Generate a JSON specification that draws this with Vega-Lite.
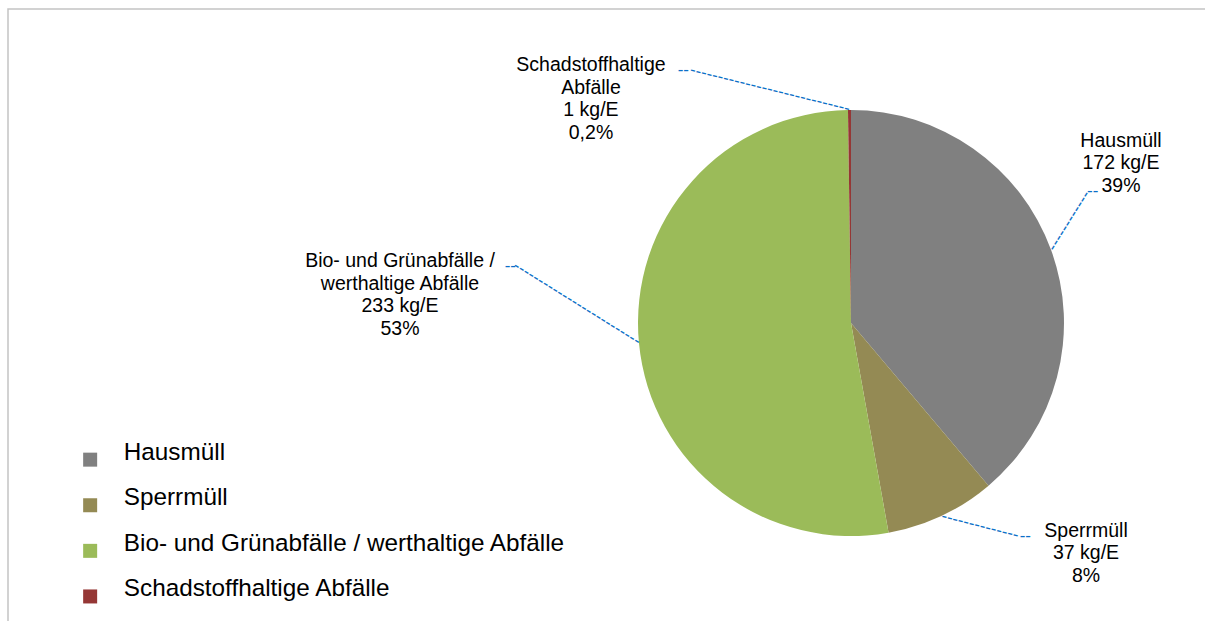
{
  "$schema": "https://vega.github.io/schema/vega-lite/v6.json",
  "width": 1686,
  "height": 628,
  "autosize": {"type": "none"},
  "padding": {"left": 8, "top": 9, "right": 0, "bottom": 0},
  "background": "white",
  "view": {"stroke": "#c3c3c3", "strokeWidth": 1.5},
  "config": {
    "view": {"stroke": "#c3c3c3", "strokeWidth": 1.5},
    "style": {"view": {"stroke": "#c3c3c3", "strokeWidth": 1.5}},
    "font": "Liberation Sans"
  },
  "data": {
    "values": [
      {"cat": "Hausmüll", "kg": 172, "label": "Hausmüll\n172 kg/E\n39%"},
      {"cat": "Sperrmüll", "kg": 37, "label": "Sperrmüll\n37 kg/E\n8%"},
      {"cat": "Bio- und Grünabfälle / werthaltige Abfälle", "kg": 233, "label": "Bio- und Grünabfälle /\nwerthaltige Abfälle\n233 kg/E\n53%"},
      {"cat": "Schadstoffhaltige Abfälle", "kg": 1, "label": "Schadstoffhaltige\nAbfälle\n1 kg/E\n0,2%"}
    ]
  },
  "transform": [{"window": [{"op": "row_number", "as": "idx"}]}],
  "encoding": {
    "theta": {"field": "kg", "type": "quantitative", "stack": true},
    "order": {"field": "idx", "type": "quantitative"}
  },
  "layer": [
    {
      "mark": {"type": "arc", "outerRadius": 213, "strokeWidth": 0},
      "encoding": {
        "color": {
          "field": "cat",
          "type": "nominal",
          "sort": null,
          "scale": {
            "domain": ["Hausmüll", "Sperrmüll", "Bio- und Grünabfälle / werthaltige Abfälle", "Schadstoffhaltige Abfälle"],
            "range": ["#808080", "#948A54", "#9BBB59", "#953735"]
          },
          "legend": {
            "orient": "none",
            "legendX": 70,
            "legendY": 438.5,
            "title": null,
            "padding": 0,
            "labelFont": "Liberation Sans",
            "labelFontSize": 24.3,
            "labelColor": "black",
            "labelLimit": 700,
            "labelOffset": 21.5,
            "labelBaseline": "alphabetic",
            "symbolType": "square",
            "symbolSize": 196,
            "symbolStrokeWidth": 0,
            "rowPadding": 18.6
          }
        }
      }
    },
    {
      "mark": {"type": "text", "radius": 213, "angle": -58, "align": "left", "baseline": "middle", "fontSize": 17, "color": "#0A70C8"},
      "encoding": {"text": {"condition": {"test": "datum.cat === 'Hausmüll'", "value": "------------"}, "value": ""}}
    },
    {
      "mark": {"type": "text", "radius": 213, "dx": 36, "dy": -58.7, "align": "left", "baseline": "middle", "fontSize": 17, "color": "#0A70C8"},
      "encoding": {"text": {"condition": {"test": "datum.cat === 'Hausmüll'", "value": "--"}, "value": ""}}
    },
    {
      "mark": {"type": "text", "radius": 213, "angle": 14.5, "align": "left", "baseline": "middle", "fontSize": 17, "color": "#0A70C8"},
      "encoding": {"text": {"condition": {"test": "datum.cat === 'Sperrmüll'", "value": "--------------"}, "value": ""}}
    },
    {
      "mark": {"type": "text", "radius": 213, "dx": 78, "dy": 20.3, "align": "left", "baseline": "middle", "fontSize": 17, "color": "#0A70C8"},
      "encoding": {"text": {"condition": {"test": "datum.cat === 'Sperrmüll'", "value": "--"}, "value": ""}}
    },
    {
      "mark": {"type": "text", "radius": 213, "angle": -148, "align": "left", "baseline": "middle", "fontSize": 17, "color": "#0A70C8"},
      "encoding": {"text": {"condition": {"test": "datum.cat === 'Bio- und Grünabfälle / werthaltige Abfälle'", "value": "--------------------------"}, "value": ""}}
    },
    {
      "mark": {"type": "text", "radius": 213, "dx": -123, "dy": -77.4, "align": "right", "baseline": "middle", "fontSize": 17, "color": "#0A70C8"},
      "encoding": {"text": {"condition": {"test": "datum.cat === 'Bio- und Grünabfälle / werthaltige Abfälle'", "value": "--"}, "value": ""}}
    },
    {
      "mark": {"type": "text", "radius": 213, "angle": -166.1, "align": "left", "baseline": "middle", "fontSize": 17, "color": "#0A70C8"},
      "encoding": {"text": {"condition": {"test": "datum.cat === 'Schadstoffhaltige Abfälle'", "value": "-----------------------------"}, "value": ""}}
    },
    {
      "mark": {"type": "text", "radius": 213, "dx": -160.5, "dy": -40, "align": "right", "baseline": "middle", "fontSize": 17, "color": "#0A70C8"},
      "encoding": {"text": {"condition": {"test": "datum.cat === 'Schadstoffhaltige Abfälle'", "value": "--"}, "value": ""}}
    },
    {
      "mark": {"type": "text", "radius": 213, "dx": 70, "dy": -109.2, "fontSize": 19.5, "lineBreak": "\n", "lineHeight": 22.5, "align": "center", "baseline": "middle", "color": "black"},
      "encoding": {"text": {"condition": {"test": "datum.cat === 'Hausmüll'", "field": "label", "type": "nominal"}, "value": ""}}
    },
    {
      "mark": {"type": "text", "radius": 213, "dx": 144.4, "dy": 15, "fontSize": 19.5, "lineBreak": "\n", "lineHeight": 22.5, "align": "center", "baseline": "middle", "color": "black"},
      "encoding": {"text": {"condition": {"test": "datum.cat === 'Sperrmüll'", "field": "label", "type": "nominal"}, "value": ""}}
    },
    {
      "mark": {"type": "text", "radius": 213, "dx": -239, "dy": -82.2, "fontSize": 19.5, "lineBreak": "\n", "lineHeight": 22.5, "align": "center", "baseline": "middle", "color": "black"},
      "encoding": {"text": {"condition": {"test": "datum.cat === 'Bio- und Grünabfälle / werthaltige Abfälle'", "field": "label", "type": "nominal"}, "value": ""}}
    },
    {
      "mark": {"type": "text", "radius": 213, "dx": -258.5, "dy": -44.8, "fontSize": 19.5, "lineBreak": "\n", "lineHeight": 22.5, "align": "center", "baseline": "middle", "color": "black"},
      "encoding": {"text": {"condition": {"test": "datum.cat === 'Schadstoffhaltige Abfälle'", "field": "label", "type": "nominal"}, "value": ""}}
    }
  ]
}
